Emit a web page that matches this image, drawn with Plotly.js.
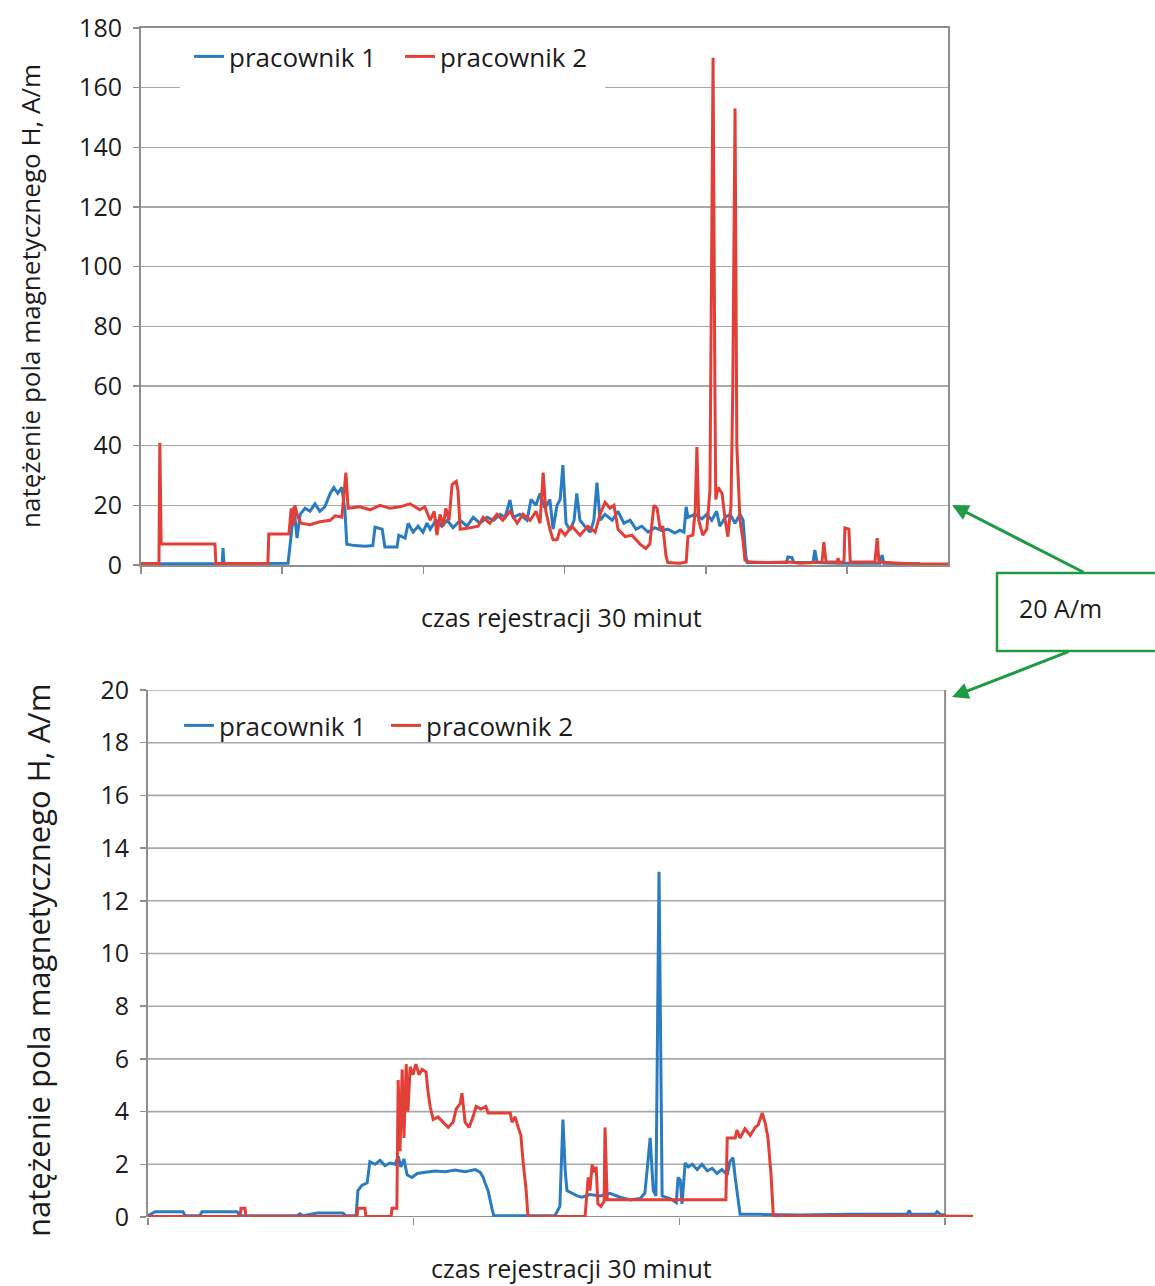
<!DOCTYPE html>
<html><head><meta charset="utf-8">
<script src="https://cdn.plot.ly/plotly-3.0.1.min.js"></script>
<style>html,body{margin:0;padding:0;background:#fff}#chart{width:1155px;height:1286px}</style>
</head><body><div id="chart"></div>
<script>
// ---- data (time in seconds of a 30-minute record, H in A/m) ----
const seriesNames = ['pracownik 1', 'pracownik 2'];
const xTitle = 'czas rejestracji 30 minut';
const yTitle = 'natężenie pola magnetycznego H, A/m';
const boxLabel = '20 A/m';

const topYTicks = [0,20,40,60,80,100,120,140,160,180];
const topXTicks = [0,315,630,945,1260,1575];
const botYTicks = [0,2,4,6,8,10,12,14,16,18,20];
const botXTicks = [0,600,1200,1800];

// top chart, pracownik 1 (blue)
const topT1 = [0,132,181,183,185,265,328,335,341,348,355,366,377,388,399,410,422,430,439,448,455,459,477,500,517,522,538,544,571,575,589,596,607,618,629,638,645,658,671,683,696,712,727,741,756,772,787,801,812,823,830,845,861,870,881,890,901,912,919,928,935,941,948,957,966,972,979,990,1002,1010,1017,1024,1035,1051,1064,1077,1091,1104,1117,1131,1146,1162,1175,1191,1202,1211,1216,1220,1236,1251,1262,1273,1284,1291,1303,1314,1325,1336,1343,1349,1352,1379,1439,1443,1452,1456,1499,1503,1508,1559,1648,1653,1657,1693,1738];
const topH1 = [0.4,0.5,0.5,5.7,0.5,0.5,0.6,10,19.5,9,17,19,18,20.5,18,19.5,24,26,24,26,18,7,6.5,6.3,6.5,12.7,12,6,6,10,9,14,11,13,11,14,12,15,13,15,12.5,15,13,16,14,16,15,17,16,21.8,16,17,15,22,20,24,19,22,12,20,22,33.5,14,11.7,15,24,15,13,11,15,27.6,15,17,15,18,14,15,12,13,11,12.5,11.5,12,10.7,11.7,11,19.5,16,17,15.5,17,15,18,13,16,17,14,17,15,3,0.8,0.8,0.8,2.7,2.5,0.8,0.8,5,0.8,0.6,0.6,3.3,0.6,0.5,0.4];

// top chart, pracownik 2 (red)
const topT2 = [0,40,42,45,165,167,283,285,330,335,339,343,350,357,377,399,422,433,448,453,457,462,488,511,533,555,578,600,622,633,645,654,660,667,674,680,687,694,703,707,712,734,752,763,778,794,807,823,839,852,868,881,890,897,903,912,919,928,935,946,961,979,997,1013,1024,1035,1046,1055,1064,1080,1095,1113,1126,1135,1144,1151,1158,1164,1171,1175,1202,1216,1220,1231,1236,1240,1244,1253,1262,1269,1271,1276,1280,1282,1287,1296,1303,1309,1316,1320,1325,1329,1336,1343,1347,1358,1403,1448,1470,1503,1519,1523,1528,1552,1555,1557,1568,1570,1579,1582,1637,1642,1646,1693,1738,1800];
const topH2 = [0.5,0.5,41,7,7,0.5,0.5,10.4,10.4,19,13,20,16,14,13.5,14.5,15,16.5,16,26,31,19,19.5,18.5,20,19,19.5,20.5,18.5,19.5,15,18,10,17,13,19,15,27,28,25,12,12.5,13,16,14,17,15,18,14,17,15,18,14,31,18,12,8.5,8.5,12,10,13,10,13,11,17,21,19,20,12,9.5,10,7,5.5,7,20,19,12,13,3,0.8,0.6,1,9.5,10,18,39.5,15,10,12,25,60,170,60,22,26,24,15,9.5,20,60,153,40,15,8,1.7,1,0.8,1,0.6,0.8,1,7.7,1,1,2.3,0.8,1,12.4,12,1,1,9,1,0.6,0.3,0.3];

// bottom chart, pracownik 1 (blue)
const botT1 = [0,16,79,84,117,122,201,208,337,343,350,382,440,447,470,474,483,495,501,513,524,535,547,558,565,571,578,585,596,608,626,648,671,693,716,739,750,757,761,768,777,781,840,919,930,937,942,946,958,969,980,998,1021,1043,1066,1089,1111,1122,1134,1141,1147,1154,1161,1179,1193,1197,1202,1206,1213,1220,1229,1240,1251,1263,1274,1285,1296,1308,1314,1321,1326,1330,1337,1382,1472,1586,1714,1719,1723,1777,1782,1789,1800];
const botH1 = [0.05,0.2,0.2,0.05,0.05,0.2,0.2,0.05,0.05,0.12,0.05,0.15,0.15,0.05,0.05,1.0,1.2,1.3,2.1,2.0,2.15,1.95,2.05,2.0,2.3,1.9,2.2,1.6,1.5,1.65,1.7,1.75,1.72,1.78,1.72,1.8,1.7,1.5,1.3,1.0,0.3,0.05,0.05,0.05,0.4,3.7,1.8,1.0,0.9,0.8,0.75,0.85,0.8,0.9,0.75,0.65,0.7,0.9,3.0,1.0,0.8,13.1,0.8,0.7,0.55,1.5,1.4,0.5,2.05,1.9,2.0,1.8,2.0,1.75,1.85,1.65,1.8,1.6,2.1,2.25,1.5,1.0,0.1,0.1,0.08,0.1,0.1,0.25,0.1,0.1,0.2,0.1,0.08];

// bottom chart, pracownik 2 (red)
const botT2 = [0,208,210,219,221,472,474,490,492,549,551,562,565,569,574,578,583,587,592,598,605,612,619,628,632,637,644,655,666,678,689,696,705,709,716,725,734,741,752,763,768,795,818,822,829,836,842,847,854,858,987,994,998,1003,1007,1012,1016,1023,1030,1032,1037,1134,1247,1305,1308,1326,1330,1337,1348,1360,1371,1378,1387,1394,1400,1407,1412,1473,1698,1863];
const botH2 = [0.02,0.02,0.33,0.33,0.02,0.02,0.33,0.33,0.02,0.02,0.33,0.33,5.2,2.5,5.6,3.0,5.8,4.0,5.7,5.4,5.8,5.4,5.6,5.5,4.8,4.2,3.7,3.8,3.6,3.4,3.6,4.1,4.3,4.7,3.6,3.4,3.8,4.2,4.1,4.2,3.95,3.95,3.95,3.6,3.8,3.4,3.1,2.1,1.0,0.02,0.02,1.5,1.0,2.0,1.7,1.9,0.5,0.4,0.6,3.4,0.65,0.65,0.65,0.65,3.0,3.0,3.3,3.0,3.35,3.1,3.4,3.5,3.95,3.55,3.0,1.6,0.05,0.05,0.03,0.03];

// ---- styles ----
const W = 1155, H = 1286;
const BLUE = '#2b7bc1', RED = '#e23f36', GREEN = '#1f9a45';
const GRID = '#a8a8a8', AXIS = '#8e8e8e', TXT = '#1c1c1c';
const FONT = 'Open Sans, Noto Sans, sans-serif';
const px = v => v / W, py = v => 1 - v / H;

const traces = [
  {x: topT1, y: topH1, name: seriesNames[0], mode: 'lines', line: {color: BLUE, width: 3}, xaxis: 'x', yaxis: 'y', legend: 'legend'},
  {x: topT2, y: topH2, name: seriesNames[1], mode: 'lines', line: {color: RED, width: 3}, xaxis: 'x', yaxis: 'y', legend: 'legend'},
  {x: botT1, y: botH1, name: seriesNames[0], mode: 'lines', line: {color: BLUE, width: 3}, xaxis: 'x2', yaxis: 'y2', legend: 'legend2'},
  {x: botT2, y: botH2, name: seriesNames[1], mode: 'lines', line: {color: RED, width: 3}, xaxis: 'x2', yaxis: 'y2', legend: 'legend2'}
];

const shapes = [];
botYTicks.filter(v => v > 0).forEach(v => shapes.push({type: 'line', xref: 'x2', yref: 'y2', x0: 0, x1: 1800, y0: v, y1: v, line: {color: GRID, width: 1.6}, layer: 'below'}));
shapes.push({type: 'line', xref: 'x2', yref: 'y2', x0: 0, x1: 1800, y0: 0, y1: 0, line: {color: AXIS, width: 2}, layer: 'below'});
shapes.push({type: 'line', xref: 'x2', yref: 'y2', x0: 1800, x1: 1800, y0: 0, y1: 20, line: {color: AXIS, width: 2}, layer: 'below'});
// white backing behind the upper legend (hides the 160 gridline there)
shapes.push({type: 'rect', xref: 'paper', yref: 'paper', x0: px(180), x1: px(605), y0: py(95), y1: py(36), line: {width: 0}, fillcolor: '#ffffff', layer: 'above'});
// callout box
shapes.push({type: 'rect', xref: 'paper', yref: 'paper', x0: px(997), x1: px(1175), y0: py(651), y1: py(573), line: {color: GREEN, width: 2.5}, fillcolor: '#ffffff'});

const ann = (text, x, y, size, angle) => ({text: text, xref: 'paper', yref: 'paper', x: px(x), y: py(y), xanchor: 'center', yanchor: 'middle',
  textangle: angle || 0, showarrow: false, font: {size: size, color: TXT, family: FONT}});
const annotations = [
  ann(yTitle, 30, 296, 26, -90),
  ann(xTitle, 561, 617, 25, 0),
  ann(yTitle, 38, 961, 31, -90),
  ann(xTitle, 571, 1268, 25, 0),
  ann(boxLabel, 1060, 608, 25, 0),
  {text: '', xref: 'paper', yref: 'paper', x: px(952), y: py(505), ax: 1085 - 952, ay: 573 - 505, showarrow: true, arrowhead: 2, arrowsize: 1.1, arrowwidth: 3, arrowcolor: GREEN},
  {text: '', xref: 'paper', yref: 'paper', x: px(952), y: py(697), ax: 1070 - 952, ay: 651 - 697, showarrow: true, arrowhead: 2, arrowsize: 1.1, arrowwidth: 3, arrowcolor: GREEN}
];

const tickFont = {size: 25, color: TXT, family: FONT};
const legFont = {size: 26, color: TXT, family: FONT};
const layout = {
  width: W, height: H,
  margin: {l: 0, r: 0, t: 0, b: 0},
  paper_bgcolor: '#ffffff', plot_bgcolor: '#ffffff',
  font: {family: FONT, color: TXT},
  showlegend: true,
  xaxis: {domain: [px(141), px(948)], range: [0, 1800], anchor: 'y', showgrid: false, zeroline: false,
          showline: true, mirror: true, linecolor: AXIS, linewidth: 2,
          ticks: 'outside', tickvals: topXTicks, ticklen: 7, tickwidth: 1.5, tickcolor: AXIS, showticklabels: false, fixedrange: true},
  yaxis: {domain: [py(565), py(28)], range: [0, 180], anchor: 'x', tickvals: topYTicks, showgrid: true, gridcolor: GRID, gridwidth: 1.6,
          zeroline: false, showline: true, mirror: true, linecolor: AXIS, linewidth: 2,
          ticks: 'outside', ticklen: 6, tickwidth: 1.5, tickcolor: AXIS, tickfont: tickFont, ticklabelstandoff: 6},
  xaxis2: {domain: [px(148), px(973)], range: [0, 1863], anchor: 'y2', showgrid: false, zeroline: false, showline: false,
           ticks: 'outside', tickvals: botXTicks, ticklen: 7, tickwidth: 1.5, tickcolor: AXIS, showticklabels: false},
  yaxis2: {domain: [py(1217), py(690)], range: [0, 20], anchor: 'x2', tickvals: botYTicks, showgrid: false, zeroline: false,
           showline: true, linecolor: AXIS, linewidth: 2,
           ticks: 'outside', ticklen: 6, tickwidth: 1.5, tickcolor: AXIS, tickfont: tickFont, ticklabelstandoff: 6},
  legend: {orientation: 'h', x: px(189), y: py(33), xanchor: 'left', yanchor: 'top', bgcolor: 'rgba(0,0,0,0)',
           font: legFont, itemwidth: 30, entrywidth: 166},
  legend2: {orientation: 'h', x: px(179), y: py(702), xanchor: 'left', yanchor: 'top', bgcolor: 'rgba(0,0,0,0)',
           font: legFont, itemwidth: 30, entrywidth: 162},
  shapes: shapes,
  annotations: annotations
};

Plotly.newPlot('chart', traces, layout, {staticPlot: true, displayModeBar: false});
</script>
</body></html>
